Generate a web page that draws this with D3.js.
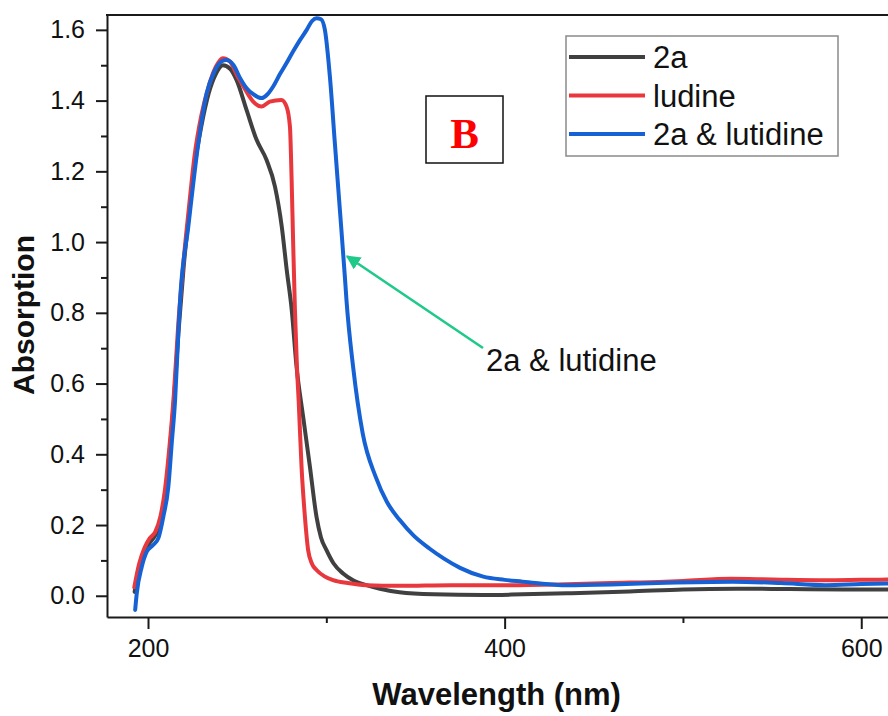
<!DOCTYPE html>
<html>
<head>
<meta charset="utf-8">
<script src="https://cdn.jsdelivr.net/npm/d3@7"></script>
<style>
  html, body { margin: 0; padding: 0; background: #fff; }
  svg { display: block; }
</style>
</head>
<body>
<svg id="chart" width="888" height="716"></svg>
<script>
// UV-Vis absorption spectra (wavelength in nm, absorbance)
const wl2a = [192.5, 195, 198, 201, 204, 207, 209.5, 212, 214.5, 217, 220, 223, 226, 230, 234, 238, 242, 246, 249.7, 255.3, 260.9, 266.5, 271.2, 275, 277.8, 280.6, 283.3, 287, 290.8, 294.5, 297, 300.1, 304, 309.4, 315, 322.5, 330, 341, 360, 388, 410, 435, 470, 500, 530, 560, 590, 620];
const abs2a = [0.011, 0.08, 0.125, 0.15, 0.17, 0.205, 0.28, 0.40, 0.55, 0.74, 0.93, 1.08, 1.21, 1.33, 1.42, 1.475, 1.50, 1.49, 1.458, 1.373, 1.289, 1.232, 1.157, 1.044, 0.921, 0.808, 0.648, 0.506, 0.365, 0.223, 0.165, 0.129, 0.092, 0.063, 0.044, 0.030, 0.020, 0.010, 0.004, 0.002, 0.004, 0.007, 0.012, 0.018, 0.020, 0.019, 0.018, 0.018];

const wlLud = [192.3, 195, 198, 201, 204, 207, 209.5, 212, 214.5, 217, 220, 223, 226, 230, 234, 238, 242, 246, 250, 253.5, 259, 263.7, 268.3, 274.8, 277.7, 279.6, 280.5, 281.4, 282.4, 283.5, 284.5, 286.1, 288, 289.8, 292, 294.5, 299, 303.8, 312, 322.5, 341, 370, 400, 430, 460, 490, 500, 527, 550, 580, 600, 620];
const absLud = [0.024, 0.09, 0.135, 0.163, 0.18, 0.225, 0.30, 0.42, 0.57, 0.77, 0.95, 1.10, 1.24, 1.36, 1.44, 1.495, 1.52, 1.51, 1.47, 1.44, 1.397, 1.383, 1.397, 1.402, 1.383, 1.326, 1.185, 0.997, 0.808, 0.65, 0.55, 0.365, 0.223, 0.129, 0.09, 0.073, 0.055, 0.044, 0.036, 0.030, 0.028, 0.030, 0.030, 0.032, 0.036, 0.040, 0.042, 0.048, 0.046, 0.044, 0.045, 0.046];

const wlMix = [192.8, 193.7, 196.5, 199.3, 203, 205.8, 208.6, 211.4, 213.3, 215.2, 217, 218, 222.6, 228.2, 232.9, 237, 241, 244, 248, 251.5, 255.3, 259, 263.7, 267, 270.2, 274, 277.7, 281.5, 285.2, 289, 292, 294.5, 297, 299.2, 302, 304.8, 307.6, 310.4, 311.3, 315, 320.4, 327.7, 334, 341.2, 349, 358, 366, 375, 388, 400, 410, 420, 434.5, 460, 490.6, 527.7, 555, 580, 600, 620];
const absMix = [-0.04, 0.007, 0.082, 0.125, 0.144, 0.163, 0.224, 0.308, 0.431, 0.554, 0.742, 0.836, 1.044, 1.279, 1.421, 1.48, 1.51, 1.515, 1.50, 1.465, 1.435, 1.418, 1.407, 1.418, 1.44, 1.475, 1.506, 1.54, 1.571, 1.60, 1.625, 1.633, 1.63, 1.60, 1.468, 1.279, 1.091, 0.902, 0.836, 0.648, 0.459, 0.336, 0.265, 0.214, 0.17, 0.133, 0.105, 0.079, 0.054, 0.045, 0.040, 0.035, 0.030, 0.032, 0.037, 0.040, 0.036, 0.030, 0.033, 0.035];

const seriesNames = ["2a", "ludine", "2a & lutidine"];
const seriesColors = ["#404040", "#e8383d", "#1662d4"];

const xMajorTicks = [200, 400, 600];
const xMinorTicks = [300, 500];
const yMajorTicks = [0, 0.2, 0.4, 0.6, 0.8, 1.0, 1.2, 1.4, 1.6];
const yMinorTicks = [0.1, 0.3, 0.5, 0.7, 0.9, 1.1, 1.3, 1.5];

const xTitle = "Wavelength (nm)";
const yTitle = "Absorption";
const panelLabel = "B";
const calloutText = "2a & lutidine";
const calloutPoint = [310.5, 0.96];   // point on the blue curve the arrow targets

const sans = "'Liberation Sans', Arial, sans-serif";
const serif = "'Liberation Serif', 'Times New Roman', serif";

const svg = d3.select("#chart");
const plotLeft = 107, plotTop = 15, plotBottom = 617, plotRight = 888;

const x = d3.scaleLinear().domain([177, 615]).range([plotLeft, plotRight]);
const y = d3.scaleLinear().domain([-0.06, 1.642]).range([plotBottom, plotTop]);

const defs = svg.append("defs");
defs.append("clipPath").attr("id", "plotClip")
  .append("rect").attr("x", plotLeft).attr("y", plotTop)
  .attr("width", plotRight - plotLeft).attr("height", plotBottom - plotTop);
defs.append("marker").attr("id", "arrowHead")
  .attr("viewBox", "0 0 10 10").attr("refX", 9).attr("refY", 5)
  .attr("markerWidth", 5.5).attr("markerHeight", 5.5).attr("orient", "auto")
  .attr("markerUnits", "strokeWidth")
  .append("path").attr("d", "M0,0 L10,5 L0,10 Z").attr("fill", "#1fc98a");

// spectra
const line = d3.line().x(d => x(d[0])).y(d => y(d[1])).curve(d3.curveMonotoneX);
const seriesData = [
  d3.zip(wl2a, abs2a),
  d3.zip(wlLud, absLud),
  d3.zip(wlMix, absMix)
];
const plot = svg.append("g").attr("clip-path", "url(#plotClip)");
seriesData.forEach((data, i) => {
  plot.append("path").datum(data)
    .attr("fill", "none")
    .attr("stroke", seriesColors[i])
    .attr("stroke-width", 4)
    .attr("stroke-linejoin", "round")
    .attr("stroke-linecap", "round")
    .attr("d", line);
});

// axes
const axisColor = "#1a1a1a";
svg.append("g").attr("transform", `translate(0,${plotBottom})`)
  .call(d3.axisBottom(x).tickValues(xMajorTicks).tickSize(12).tickSizeOuter(0).tickPadding(10).tickFormat(d3.format("d")));
svg.append("g").attr("transform", `translate(0,${plotBottom})`)
  .call(d3.axisBottom(x).tickValues(xMinorTicks).tickSize(6).tickSizeOuter(0).tickFormat(""))
  .select(".domain").remove();
svg.append("g").attr("transform", `translate(${plotLeft},0)`)
  .call(d3.axisLeft(y).tickValues(yMajorTicks).tickSize(11).tickSizeOuter(0).tickPadding(11).tickFormat(d3.format(".1f")));
svg.append("g").attr("transform", `translate(${plotLeft},0)`)
  .call(d3.axisLeft(y).tickValues(yMinorTicks).tickSize(6).tickSizeOuter(0).tickFormat(""))
  .select(".domain").remove();

svg.selectAll(".domain").attr("stroke", axisColor).attr("stroke-width", 2);
svg.selectAll(".tick line").attr("stroke", axisColor).attr("stroke-width", 2);
svg.selectAll(".tick text")
  .style("font-family", sans)
  .style("font-size", "25px").attr("fill", "#111");

// top frame
svg.append("line").attr("x1", plotLeft - 1).attr("x2", plotRight).attr("y1", plotTop).attr("y2", plotTop)
  .attr("stroke", axisColor).attr("stroke-width", 2);

// axis titles
svg.append("text").attr("x", (x(200) + x(600)) / 2 - 8).attr("y", 705)
  .attr("text-anchor", "middle").style("font-family", sans).style("font-size", "31px")
  .style("font-weight", "bold").attr("fill", "#111").text(xTitle);
svg.append("text").attr("transform", `translate(34,${315}) rotate(-90)`)
  .attr("text-anchor", "middle").style("font-family", sans).style("font-size", "30px")
  .style("font-weight", "bold").attr("fill", "#111").text(yTitle);

// legend
const legend = svg.append("g");
legend.append("rect").attr("x", 566).attr("y", 36).attr("width", 272).attr("height", 120)
  .attr("fill", "#fff").attr("stroke", "#8a8a8a").attr("stroke-width", 1.5);
seriesNames.forEach((name, i) => {
  const cy = 57 + i * 38.5;
  legend.append("line").attr("x1", 569).attr("x2", 645).attr("y1", cy).attr("y2", cy)
    .attr("stroke", seriesColors[i]).attr("stroke-width", 4);
  legend.append("text").attr("x", 653).attr("y", cy + 11)
    .style("font-family", sans).style("font-size", "31px").attr("fill", "#111").text(name);
});

// panel label
svg.append("rect").attr("x", 426).attr("y", 96).attr("width", 77).attr("height", 67)
  .attr("fill", "#fff").attr("stroke", "#111").attr("stroke-width", 1.5);
svg.append("text").attr("x", 464.5).attr("y", 148).attr("text-anchor", "middle")
  .style("font-family", serif).style("font-size", "43px").style("font-weight", "bold")
  .attr("fill", "#ff0000").text(panelLabel);

// callout arrow
svg.append("line")
  .attr("x1", 483).attr("y1", 348)
  .attr("x2", x(calloutPoint[0]) + 2).attr("y2", y(calloutPoint[1]))
  .attr("stroke", "#1fc98a").attr("stroke-width", 2.6)
  .attr("marker-end", "url(#arrowHead)");
svg.append("text").attr("x", 486).attr("y", 371)
  .style("font-family", sans).style("font-size", "31px").attr("fill", "#111").text(calloutText);
</script>
</body>
</html>
